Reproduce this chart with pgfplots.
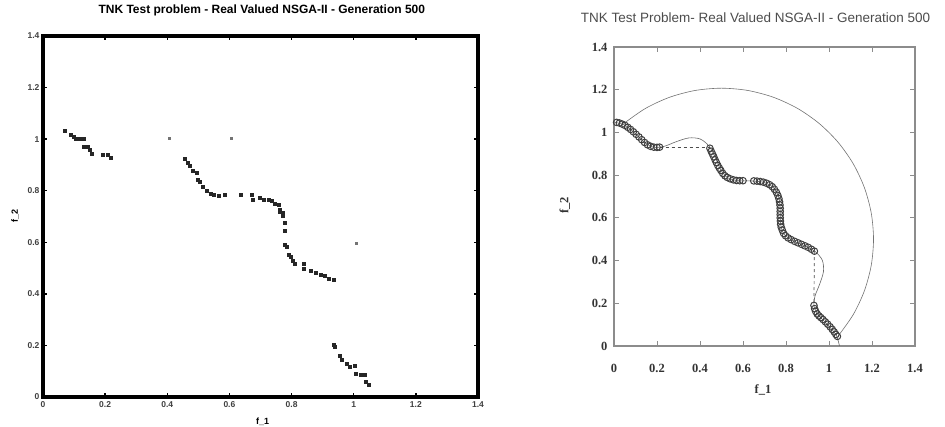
\documentclass[border=0pt]{standalone}
\usepackage{pgfplots}
\pgfplotsset{compat=1.18}
\usepackage{fontspec}
\setmainfont{Liberation Serif}
\newfontfamily\arial{Liberation Sans}

\begin{document}
\begin{tikzpicture}
\useasboundingbox (0,0) rectangle (945pt,427pt);
% left panel: MATLAB style render
\begin{axis}[
  at={(43pt,30pt)}, anchor=south west,
  scale only axis, width=435pt, height=361pt,
  xmin=0, xmax=1.4, ymin=0, ymax=1.4,
  xtick={0,0.2,0.4,0.6,0.8,1,1.2,1.4},
  ytick={0,0.2,0.4,0.6,0.8,1,1.2,1.4},
  tick align=inside, major tick length=4pt,
  tick style={black, line width=1.4pt},
  axis line style={line width=3.4pt, line cap=rect},
  /pgf/number format/assume math mode=true,
  ticklabel style={font=\arial\bfseries\fontsize{8.5}{9}\selectfont, text=black!75},
  xticklabel shift=1pt, yticklabel shift=0pt,
  title={TNK Test problem - Real Valued NSGA-II - Generation 500},
  title style={font=\arial\bfseries\fontsize{12}{14}\selectfont, yshift=0pt, at={(axis description cs:0.503,1.053)}, anchor=center},
  xlabel={f\_1}, ylabel={f\_2},
  label style={font=\arial\bfseries\fontsize{9}{10}\selectfont},
  x label style={at={(axis description cs:0.505,-0.069)}, anchor=center},
  y label style={at={(axis description cs:-0.064,0.5)}, anchor=center},
]
\addplot[only marks, mark=square*, mark size=1.4pt, black!85, line width=0.4pt] coordinates {
 (0.0708,1.0314) (0.0891,1.0159) (0.0976,1.0093) (0.1062,1.0030) (0.1169,1.0030)
 (0.1298,1.0030) (0.1298,0.9706) (0.1427,0.9706) (0.1513,0.9577) (0.1567,0.9422)
 (0.1921,0.9383) (0.2071,0.9383) (0.2178,0.9292)
 (0.4570,0.9254) (0.4646,0.9099) (0.4710,0.8957) (0.4818,0.8775) (0.4947,0.8697)
 (0.4968,0.8440) (0.5032,0.8350) (0.5140,0.8155) (0.5268,0.7999) (0.5397,0.7898)
 (0.5482,0.7833) (0.5643,0.7794) (0.5858,0.7833) (0.6363,0.7833) (0.6717,0.7859)
 (0.6749,0.7665) (0.6963,0.7729) (0.7091,0.7665) (0.7252,0.7639) (0.7359,0.7600)
 (0.7467,0.7511) (0.7573,0.7445) (0.7606,0.7278) (0.7713,0.7147) (0.7713,0.7018)
 (0.7606,0.7186) (0.7789,0.6759) (0.7789,0.6449) (0.7789,0.5894)
 (0.7843,0.5829) (0.7895,0.5533) (0.7971,0.5441) (0.8036,0.5286) (0.8111,0.5157)
 (0.8379,0.5184) (0.8379,0.4990) (0.8616,0.4886) (0.8787,0.4820) (0.8937,0.4731)
 (0.9076,0.4692) (0.9183,0.4603) (0.9344,0.4537)
 (0.9344,0.2016) (0.9398,0.1950) (0.9537,0.1590) (0.9613,0.1435) (0.9774,0.1280)
 (0.9858,0.1176) (1.0042,0.1202) (1.0074,0.0918) (1.0225,0.0853) (1.0364,0.0853)
 (1.0396,0.0594) (1.0470,0.0465)
};
\addplot[only marks, mark=square*, mark size=0.9pt, black!55, line width=0.4pt] coordinates {
 (0.406,1.004) (0.605,1.004) (1.007,0.597)
};
\end{axis}
% right panel: original figure
\begin{axis}[
  at={(614pt,81pt)}, anchor=south west,
  scale only axis, width=301pt, height=299pt,
  xmin=0, xmax=1.4, ymin=0, ymax=1.4,
  xtick={0,0.2,0.4,0.6,0.8,1,1.2,1.4},
  ytick={0,0.2,0.4,0.6,0.8,1,1.2,1.4},
  tick align=inside, major tick length=5pt,
  tick style={black!45, line width=0.8pt},
  axis line style={black!45, line width=1.8pt, line cap=rect},
  /pgf/number format/assume math mode=true,
  ticklabel style={font=\bfseries\fontsize{12.5}{14}\selectfont, text=black!80},
  xticklabel shift=15pt, yticklabel shift=3pt,
  title={TNK Test Problem- Real Valued NSGA-II - Generation 500},
  title style={font=\arial\fontsize{13.5}{15}\selectfont, text=black!70, yshift=0pt, at={(axis description cs:0.47,1.077)}, anchor=center},
  xlabel={f\_1}, ylabel={f\_2},
  label style={font=\bfseries\fontsize{12.5}{14}\selectfont, text=black!80},
  x label style={at={(axis description cs:0.495,-0.147)}, anchor=center},
  y label style={at={(axis description cs:-0.163,0.47)}, anchor=center},
]
% constraint circle (x-0.5)^2+(y-0.5)^2=0.5
\addplot[black!55, line width=0.6pt, smooth] coordinates {
 (0.0455,1.0417) (0.1464,1.1124) (0.2582,1.1645) (0.3772,1.1964) (0.5,1.2071)
 (0.6228,1.1964) (0.7418,1.1645) (0.8536,1.1124) (0.9545,1.0417) (1.0417,0.9545)
 (1.1124,0.8536) (1.1645,0.7418) (1.1964,0.6228) (1.2071,0.5) (1.1964,0.3772)
 (1.1645,0.2582) (1.1124,0.1464) (1.0417,0.0455)
};
% wavy constraint boundary
\addplot[black!60, line width=0.6pt, smooth] coordinates {
 (1.0488,0) (1.0336,0.0508) (0.9952,0.0980) (0.9536,0.1414) (0.9305,0.1851)
 (0.9351,0.2342) (0.9569,0.2903) (0.9743,0.3486) (0.9689,0.4014) (0.9355,0.4424)
 (0.8819,0.4714) (0.8269,0.4956) (0.7888,0.5271) (0.7743,0.5743) (0.7730,0.6344)
 (0.7667,0.6949) (0.7416,0.7416) (0.6949,0.7667) (0.6344,0.7730) (0.5743,0.7743)
 (0.5271,0.7888) (0.4956,0.8269) (0.4714,0.8819) (0.4424,0.9355) (0.4014,0.9689)
 (0.3486,0.9743) (0.2903,0.9569) (0.2342,0.9351) (0.1851,0.9305) (0.1414,0.9536)
 (0.0980,0.9952) (0.0508,1.0336) (0,1.0488)
};
% dashed front links
\addplot[black!70, line width=0.7pt, dashed] coordinates {(0.212,0.930) (0.446,0.930)};
\addplot[black!70, line width=0.7pt, dashed] coordinates {(0.932,0.444) (0.930,0.192)};
% NSGA-II solutions
\addplot[only marks, mark=o, mark size=3.3pt, black!75, mark options={line width=1pt}] coordinates {
 (0.012,1.047) (0.025,1.044) (0.038,1.039) (0.051,1.033) (0.064,1.024) (0.077,1.014)
 (0.090,1.003) (0.103,0.991) (0.116,0.979) (0.129,0.966) (0.142,0.953) (0.156,0.942)
 (0.170,0.935) (0.185,0.931) (0.200,0.930) (0.212,0.931)
 (0.446,0.926) (0.452,0.912) (0.458,0.899) (0.464,0.886) (0.470,0.872) (0.476,0.859)
 (0.483,0.845) (0.490,0.833) (0.497,0.822) (0.506,0.808) (0.516,0.797) (0.527,0.789)
 (0.540,0.783) (0.555,0.778) (0.570,0.775) (0.585,0.774) (0.600,0.774)
 (0.650,0.773) (0.665,0.772) (0.680,0.770) (0.695,0.767) (0.710,0.762) (0.724,0.755)
 (0.736,0.746) (0.746,0.734) (0.755,0.720) (0.762,0.705) (0.767,0.690) (0.770,0.675)
 (0.772,0.660) (0.773,0.645) (0.773,0.630) (0.773,0.615) (0.773,0.600) (0.774,0.585)
 (0.775,0.570) (0.778,0.556) (0.783,0.542) (0.789,0.527) (0.798,0.516) (0.810,0.506)
 (0.824,0.498) (0.840,0.490) (0.856,0.483) (0.872,0.476) (0.888,0.469) (0.903,0.462)
 (0.918,0.453) (0.932,0.444)
 (0.930,0.190) (0.933,0.175) (0.938,0.162) (0.945,0.150) (0.953,0.141) (0.962,0.133)
 (0.972,0.124) (0.983,0.113) (0.994,0.102) (1.005,0.090) (1.015,0.078) (1.024,0.066)
 (1.032,0.054) (1.039,0.045)
};
\end{axis}
\end{tikzpicture}
\end{document}
